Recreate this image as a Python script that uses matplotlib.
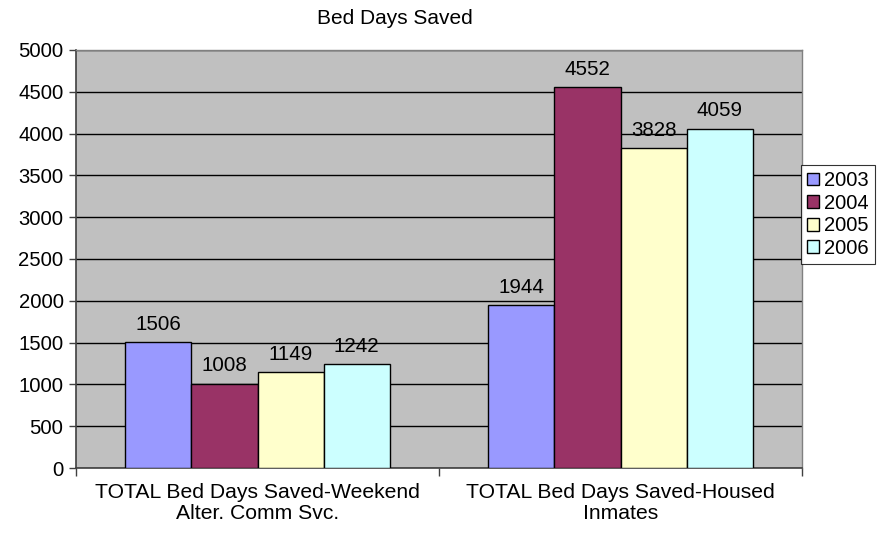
import matplotlib
matplotlib.use("Agg")
import matplotlib.pyplot as plt
import numpy as np

categories = ["TOTAL Bed Days Saved-Weekend\nAlter. Comm Svc.", "TOTAL Bed Days Saved-Housed\nInmates"]
years = ["2003", "2004", "2005", "2006"]
values = {
    "2003": [1506, 1944],
    "2004": [1008, 4552],
    "2005": [1149, 3828],
    "2006": [1242, 4059],
}
colors = ["#9999FF", "#993366", "#FFFFCC", "#CCFFFF"]
title = "Bed Days Saved"

plt.rcParams['font.family'] = ['Liberation Sans', 'DejaVu Sans']
FS = 14.8

fig = plt.figure(figsize=(8.89, 5.33), dpi=100)
ax = fig.add_axes([76/889, 1-468/533, (802-76)/889, (468-50)/533])
ax.set_facecolor("#C0C0C0")

x = np.arange(len(categories))
w = 0.182
for i, (yr, c) in enumerate(zip(years, colors)):
    pos = x + (i - 1.5) * w
    ax.bar(pos, values[yr], width=w, color=c, edgecolor="black", linewidth=1.0, label=yr, zorder=3)
    for p, v in zip(pos, values[yr]):
        ax.annotate(str(v), (p, v), xytext=(0, 6), textcoords="offset points",
                    ha="center", va="bottom", fontsize=FS, zorder=4)

ax.set_xlim(-0.5, 1.5)
ax.set_ylim(0, 5000)
ax.set_yticks(np.arange(0, 5001, 500))
ax.yaxis.grid(True, color="black", linewidth=1.0, zorder=1)
ax.set_axisbelow(True)
ax.tick_params(axis="y", labelsize=14.6, length=5, width=1, color="#404040", direction="out", pad=4)
ax.set_xticks([-0.5, 0.5, 1.5])
ax.set_xticklabels([])
ax.tick_params(axis="x", length=6, width=1, color="#404040", direction="out")
for xc, lab in zip(x, categories):
    ax.text(xc, -0.036, lab, transform=ax.get_xaxis_transform(), ha="center", va="top",
            fontsize=15.2, linespacing=1.15)

for s in ["left", "bottom"]:
    ax.spines[s].set_color("#404040")
    ax.spines[s].set_linewidth(1.2)
for s in ["top", "right"]:
    ax.spines[s].set_color("#808080")
    ax.spines[s].set_linewidth(1.0)

fig.text(395/889, 1-19/533, title, ha="center", va="center", fontsize=15)

leg = ax.legend(loc="upper left", bbox_to_anchor=(801/889, 1-165/533), bbox_transform=fig.transFigure,
                fontsize=14.5, frameon=True, fancybox=False, edgecolor="black",
                handlelength=0.6, handleheight=0.6, handletextpad=0.25, borderpad=0.3,
                labelspacing=0.18, borderaxespad=0)
leg.get_frame().set_linewidth(0.8)
for h in leg.legend_handles:
    h.set_linewidth(1.0)

fig.savefig("out.png", dpi=100)
